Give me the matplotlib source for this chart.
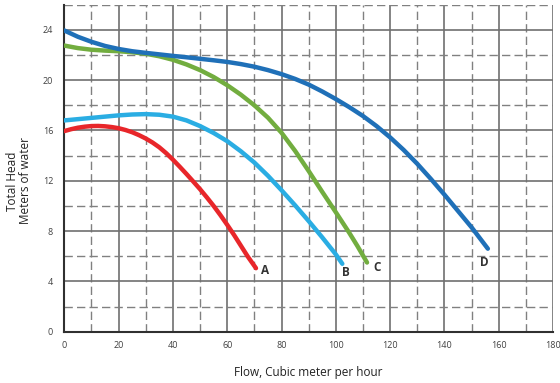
import matplotlib
matplotlib.use("Agg")
import matplotlib.pyplot as plt
from matplotlib.ticker import MultipleLocator

plt.rcParams['font.family'] = ['Open Sans', 'DejaVu Sans']

# pump curves (flow m3/h, head m)
a_flow = [0, 2.5, 5, 7.5, 10, 12.5, 15, 17.5, 20, 22.5, 25, 27.5, 30, 32.5, 35, 37.5,
          40, 42.5, 45, 47.5, 50, 52.5, 55, 57.5, 60, 62.5, 65, 67.5, 70.6]
a_head = [15.95, 16.1, 16.22, 16.3, 16.35, 16.36, 16.33, 16.27, 16.18, 16.04, 15.86, 15.63,
          15.36, 15.04, 14.66, 14.2, 13.68, 13.12, 12.54, 11.94, 11.33, 10.68, 10.0, 9.27,
          8.5, 7.7, 6.85, 6.0, 5.05]

b_flow = [0, 5, 10, 15, 20, 25, 30, 35, 40, 45, 50, 55, 60, 65, 70, 75, 80, 85, 90, 95, 100, 102.4]
b_head = [16.8, 16.9, 17.0, 17.1, 17.2, 17.27, 17.3, 17.25, 17.1, 16.8, 16.35, 15.8, 15.15,
          14.35, 13.45, 12.4, 11.25, 10.05, 8.8, 7.5, 6.15, 5.4]

c_flow = [0, 5, 10, 15, 20, 25, 30, 35, 40, 45, 50, 55, 60, 65, 70, 75, 80, 85, 90, 95,
          100, 105, 108, 111.5]
c_head = [22.75, 22.55, 22.42, 22.35, 22.3, 22.22, 22.1, 21.9, 21.62, 21.25, 20.8, 20.25,
          19.6, 18.85, 18.0, 17.02, 15.82, 14.38, 12.78, 11.12, 9.5, 7.85, 6.8, 5.5]

d_flow = [0, 5, 10, 15, 20, 25, 30, 35, 40, 45, 50, 55, 60, 65, 70, 75, 80, 85, 90, 95,
          100, 105, 110, 115, 120, 125, 130, 135, 140, 145, 150, 156]
d_head = [23.95, 23.45, 23.05, 22.72, 22.48, 22.3, 22.17, 22.05, 21.93, 21.82, 21.7, 21.58,
          21.45, 21.28, 21.07, 20.8, 20.48, 20.1, 19.65, 19.1, 18.5, 17.85, 17.15, 16.35,
          15.45, 14.45, 13.35, 12.15, 10.9, 9.6, 8.3, 6.6]

labels = ["A", "B", "C", "D"]
label_x = [73.9, 103.8, 115.1, 154.6]
label_y = [4.9, 4.7, 5.1, 5.5]

colors = ["#E8262A", "#2AADE3", "#72AD3F", "#1F70B8"]

fig = plt.figure(figsize=(5.6, 3.83), dpi=100)
ax = fig.add_axes([64.3 / 560, 1 - 331.7 / 383, (553 - 64.3) / 560, (331.7 - 4.7) / 383])

for xs, ys, col in zip([a_flow, b_flow, c_flow, d_flow], [a_head, b_head, c_head, d_head], colors):
    ax.plot(xs, ys, color=col, lw=3.2, solid_capstyle="round", solid_joinstyle="round", zorder=3)

for lab, x, y in zip(labels, label_x, label_y):
    ax.text(x, y, lab, fontsize=8.5, fontweight="bold", color="#333333", ha="center", va="center")

ax.set_xlim(0, 180)
ax.set_ylim(0, 26)
ax.xaxis.set_major_locator(MultipleLocator(20))
ax.xaxis.set_minor_locator(MultipleLocator(10))
ax.yaxis.set_major_locator(MultipleLocator(4))
ax.yaxis.set_minor_locator(MultipleLocator(2))
ax.grid(which="major", color="#707070", lw=1.2, ls="-", zorder=1)
ax.grid(which="minor", color="#808080", lw=1.0, ls=(0, (6, 3)), zorder=1)
ax.set_axisbelow(True)

ax.tick_params(which="both", length=0)
ax.tick_params(axis="x", labelsize=6.5, colors="#404040", pad=7)
ax.tick_params(axis="y", labelsize=6.5, colors="#404040", pad=8)

for s in ["top", "right"]:
    ax.spines[s].set_visible(False)
for s in ["left", "bottom"]:
    ax.spines[s].set_color("#303030")
    ax.spines[s].set_linewidth(1.5)

ax.set_xlabel("Flow, Cubic meter per hour", fontsize=8.5, color="#222222", labelpad=11)
fig.text(19 / 560, 1 - 181 / 383, "Total Head\nMeters of water", fontsize=8.5, color="#222222",
         rotation=90, ha="center", va="center", multialignment="center", linespacing=1.0)

fig.savefig("out.png", dpi=100)
